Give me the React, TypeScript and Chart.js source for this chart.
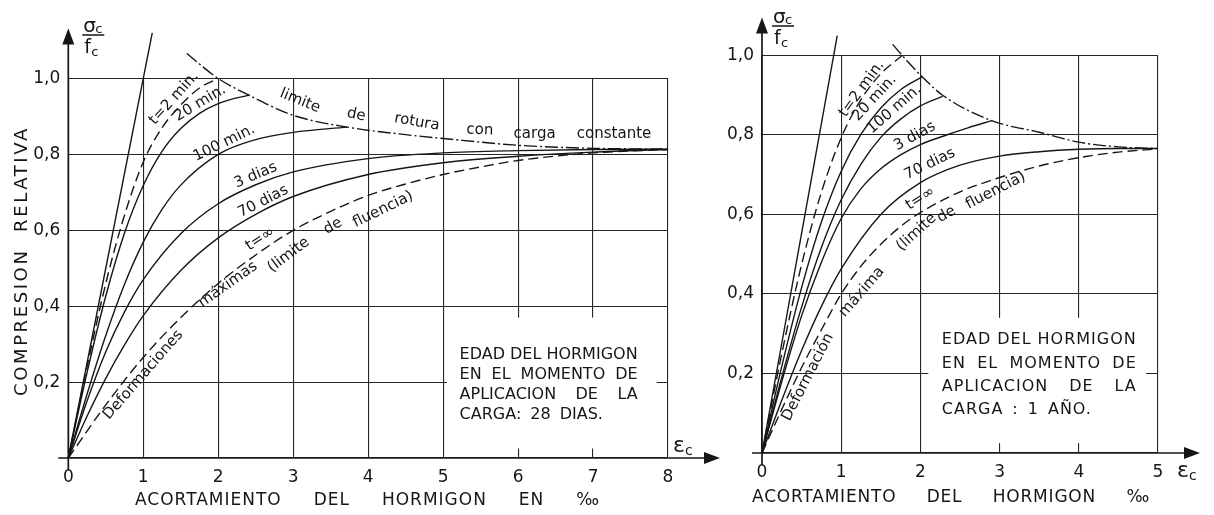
import React, { useEffect, useRef } from 'react';
import { Chart, registerables } from 'chart.js';
Chart.register(...registerables);

const FONT = '"DejaVu Sans", "Liberation Sans", sans-serif';
const INK = '#161616';

// ---------------- LEFT PANEL (carga a los 28 dias) ----------------
const L_X_MAX = 8;
const L_ELASTIC_X = [0, 1.12];
const L_ELASTIC_Y = [0, 1.12];
const L_2MIN_X = [0, 0.25, 0.5, 0.75, 1.0, 1.25, 1.5, 1.75, 2.0];
const L_2MIN_Y = [0, 0.24, 0.46, 0.64, 0.78, 0.87, 0.93, 0.975, 1.0];
const L_20MIN_X = [0, 0.25, 0.5, 0.75, 1.0, 1.25, 1.5, 1.75, 2.0, 2.42];
const L_20MIN_Y = [0, 0.225, 0.427, 0.593, 0.718, 0.808, 0.868, 0.908, 0.934, 0.957];
const L_100MIN_X = [0, 0.25, 0.5, 0.75, 1.0, 1.25, 1.5, 2.0, 2.5, 3.0, 3.72];
const L_100MIN_Y = [0, 0.168, 0.323, 0.458, 0.569, 0.655, 0.719, 0.8, 0.839, 0.858, 0.872];
const L_3D_X = [0, 0.25, 0.5, 0.75, 1.0, 1.5, 2.0, 2.5, 3.0, 4.0, 5.0, 6.0, 7.0, 8.0];
const L_3D_Y = [0, 0.15, 0.28, 0.385, 0.47, 0.591, 0.67, 0.72, 0.754, 0.789, 0.804, 0.81, 0.813, 0.814];
const L_70D_X = [0, 0.25, 0.5, 0.75, 1.0, 1.5, 2.0, 2.5, 3.0, 4.0, 5.0, 6.0, 7.0, 8.0];
const L_70D_Y = [0, 0.11, 0.21, 0.298, 0.375, 0.494, 0.58, 0.642, 0.689, 0.747, 0.778, 0.795, 0.806, 0.813];
const L_INF_X = [0, 0.5, 1.0, 1.5, 2.0, 2.5, 3.0, 3.5, 4.0, 4.5, 5.0, 5.5, 6.0, 7.0, 8.0];
const L_INF_Y = [0, 0.14, 0.265, 0.37, 0.46, 0.535, 0.6, 0.65, 0.692, 0.722, 0.747, 0.767, 0.784, 0.804, 0.813];
const L_LIMIT_X = [1.58, 2.0, 2.42, 3.0, 3.72, 4.5, 5.0, 6.0, 7.0, 8.0];
const L_LIMIT_Y = [1.066, 1.0, 0.955, 0.903, 0.872, 0.852, 0.842, 0.824, 0.816, 0.814];

// ---------------- RIGHT PANEL (carga a 1 año) ----------------
const R_X_MAX = 5;
const R_ELASTIC_X = [0, 0.95];
const R_ELASTIC_Y = [0, 1.05];
const R_2MIN_X = [0, 0.25, 0.5, 0.75, 1.0, 1.25, 1.5, 1.77];
const R_2MIN_Y = [0, 0.25, 0.474, 0.656, 0.793, 0.889, 0.954, 1.0];
const R_20MIN_X = [0, 0.25, 0.5, 0.75, 1.0, 1.25, 1.5, 1.75, 2.02];
const R_20MIN_Y = [0, 0.218, 0.416, 0.581, 0.709, 0.802, 0.868, 0.914, 0.946];
const R_100MIN_X = [0, 0.25, 0.5, 0.75, 1.0, 1.25, 1.5, 1.75, 2.0, 2.28];
const R_100MIN_Y = [0, 0.191, 0.367, 0.517, 0.637, 0.727, 0.794, 0.84, 0.873, 0.897];
const R_3D_X = [0, 0.25, 0.5, 0.75, 1.0, 1.25, 1.5, 1.75, 2.0, 2.33, 2.6, 2.9];
const R_3D_Y = [0, 0.18, 0.345, 0.48, 0.59, 0.665, 0.715, 0.75, 0.776, 0.8, 0.818, 0.836];
const R_70D_X = [0, 0.25, 0.5, 0.75, 1.0, 1.5, 2.0, 2.5, 3.0, 3.5, 4.0, 4.5, 5.0];
const R_70D_Y = [0, 0.133, 0.258, 0.369, 0.463, 0.6, 0.68, 0.724, 0.747, 0.758, 0.764, 0.766, 0.766];
const R_INF_X = [0, 0.25, 0.5, 0.75, 1.0, 1.25, 1.5, 1.75, 2.0, 2.5, 3.0, 3.5, 4.0, 4.5, 5.0];
const R_INF_Y = [0, 0.11, 0.215, 0.31, 0.4, 0.47, 0.525, 0.57, 0.605, 0.657, 0.693, 0.722, 0.743, 0.757, 0.765];
const R_LIMIT_X = [1.65, 1.77, 2.02, 2.28, 2.9, 3.5, 4.0, 4.5, 5.0];
const R_LIMIT_Y = [1.028, 1.0, 0.947, 0.9, 0.836, 0.807, 0.782, 0.77, 0.766];

const Y_TICK_STEP = 0.2;

const SOLID: number[] = [];
const DASH = [10, 5];
const DASHDOT = [13, 3, 2, 3];

function pts(xs: number[], ys: number[]) {
  return xs.map((x, i) => ({ x, y: ys[i] }));
}
function line(xs: number[], ys: number[], dash: number[]) {
  return {
    data: pts(xs, ys),
    showLine: true,
    borderColor: INK,
    borderWidth: 1.4,
    borderDash: dash,
    pointRadius: 0,
    cubicInterpolationMode: 'monotone',
    clip: false,
    fill: false,
  };
}

type Label = { t: string; x: number; y: number; a: number };

const LEFT_LABELS: Label[] = [
  { t: 't=2 min.', x: 1.41, y: 0.948, a: -48 },
  { t: '20 min.', x: 1.76, y: 0.935, a: -31 },
  { t: '100 min.', x: 2.08, y: 0.83, a: -26 },
  { t: '3 dias', x: 2.5, y: 0.745, a: -23 },
  { t: '70 dias', x: 2.6, y: 0.676, a: -27 },
  { t: 't=∞', x: 2.56, y: 0.577, a: -33 },
  { t: 'Deformaciones', x: 1.0, y: 0.219, a: -49 },
  { t: 'máximas', x: 2.13, y: 0.457, a: -35 },
  { t: '(limite', x: 2.94, y: 0.535, a: -37 },
  { t: 'de', x: 3.53, y: 0.611, a: -30 },
  { t: 'fluencia)', x: 4.2, y: 0.655, a: -26 },
  { t: 'limite', x: 3.09, y: 0.941, a: 22 },
  { t: 'de', x: 3.84, y: 0.904, a: 12 },
  { t: 'rotura', x: 4.65, y: 0.885, a: 10 },
  { t: 'con', x: 5.49, y: 0.864, a: 2 },
  { t: 'carga', x: 6.22, y: 0.853, a: 0 },
  { t: 'constante', x: 7.28, y: 0.853, a: 0 },
];

const RIGHT_LABELS: Label[] = [
  { t: 't=2 min.', x: 1.26, y: 0.916, a: -54 },
  { t: '20 min.', x: 1.42, y: 0.893, a: -47 },
  { t: '100 min.', x: 1.67, y: 0.865, a: -41 },
  { t: '3 dias', x: 1.93, y: 0.797, a: -29 },
  { t: '70 dias', x: 2.12, y: 0.727, a: -26 },
  { t: 't=∞', x: 2.0, y: 0.64, a: -32 },
  { t: 'Deformación', x: 0.58, y: 0.191, a: -63 },
  { t: 'máxima', x: 1.26, y: 0.405, a: -49 },
  { t: '(limite', x: 1.95, y: 0.555, a: -42 },
  { t: 'de', x: 2.33, y: 0.6, a: -30 },
  { t: 'fluencia)', x: 2.95, y: 0.66, a: -27 },
];

const LEFT_BOX = ['EDAD DEL HORMIGON', 'EN EL MOMENTO DE', 'APLICACION DE LA', 'CARGA: 28 DIAS.'];
const RIGHT_BOX = ['EDAD DEL HORMIGON', 'EN EL MOMENTO DE', 'APLICACION DE LA', 'CARGA : 1 AÑO.'];
const LEFT_XTITLE = ['ACORTAMIENTO', 'DEL', 'HORMIGON', 'EN', '‰'];
const RIGHT_XTITLE = ['ACORTAMIENTO', 'DEL', 'HORMIGON', '‰'];
const Y_TITLE = 'COMPRESION  RELATIVA';

type PanelCfg = {
  id: string;
  labels: Label[];
  mask: { x0: number; x1: number; y0: number; y1: number };
  box: { x: number; y: number; gap: number; width: number; lines: string[]; spacing: number };
  xTitle: { words: string[]; x0: number; x1: number; y: number; spacing: number };
  yTitle: boolean;
  yArrowAbove: number;
  xArrowRight: number;
  sigma: { dx: number; barY: number };
  eps: { dx: number; y: number };
};

function drawJustified(ctx: CanvasRenderingContext2D, words: string[], x0: number, x1: number, y: number) {
  const widths = words.map((w) => ctx.measureText(w).width);
  const total = widths.reduce((a, b) => a + b, 0);
  const gap = words.length > 1 ? (x1 - x0 - total) / (words.length - 1) : 0;
  let x = x0;
  words.forEach((w, i) => {
    ctx.fillText(w, x, y);
    x += widths[i] + gap;
  });
}

function arrow(ctx: CanvasRenderingContext2D, tx: number, ty: number, dir: 'up' | 'right') {
  ctx.beginPath();
  if (dir === 'up') {
    ctx.moveTo(tx, ty);
    ctx.lineTo(tx - 6, ty + 16);
    ctx.lineTo(tx + 6, ty + 16);
  } else {
    ctx.moveTo(tx, ty);
    ctx.lineTo(tx - 16, ty - 6);
    ctx.lineTo(tx - 16, ty + 6);
  }
  ctx.closePath();
  ctx.fill();
}

function makeOverlay(cfg: PanelCfg) {
  return {
    id: 'overlay_' + cfg.id,
    beforeDatasetsDraw(chart: any) {
      const { ctx } = chart;
      const xs = chart.scales.x;
      const ys = chart.scales.y;
      const m = cfg.mask;
      const a = xs.getPixelForValue(m.x0);
      const b = xs.getPixelForValue(m.x1);
      const c = ys.getPixelForValue(m.y1);
      const d = ys.getPixelForValue(m.y0);
      ctx.save();
      ctx.fillStyle = '#ffffff';
      ctx.fillRect(a, c, b - a, d - c);
      ctx.restore();
    },
    afterDraw(chart: any) {
      const { ctx, chartArea } = chart;
      const xs = chart.scales.x;
      const ys = chart.scales.y;
      const ox = xs.getPixelForValue(0);
      const oy = ys.getPixelForValue(0);
      ctx.save();
      ctx.strokeStyle = INK;
      ctx.fillStyle = INK;
      ctx.lineWidth = 1.7;
      ctx.setLineDash([]);
      const yTip = chartArea.top - cfg.yArrowAbove;
      ctx.beginPath();
      ctx.moveTo(ox, oy + 12);
      ctx.lineTo(ox, yTip + 10);
      ctx.stroke();
      arrow(ctx, ox, yTip, 'up');
      const xTip = chartArea.right + cfg.xArrowRight;
      ctx.beginPath();
      ctx.moveTo(ox - 10, oy);
      ctx.lineTo(xTip - 10, oy);
      ctx.stroke();
      arrow(ctx, xTip, oy, 'right');

      // sigma_c / f_c
      const sx = ox + cfg.sigma.dx;
      const by = cfg.sigma.barY;
      ctx.textAlign = 'left';
      ctx.textBaseline = 'alphabetic';
      ctx.font = `20px ${FONT}`;
      ctx.fillText('σ', sx, by - 3);
      ctx.font = `13px ${FONT}`;
      ctx.fillText('c', sx + 12, by - 2);
      ctx.lineWidth = 1.5;
      ctx.beginPath();
      ctx.moveTo(sx - 1, by);
      ctx.lineTo(sx + 21, by);
      ctx.stroke();
      ctx.font = `19px ${FONT}`;
      ctx.fillText('f', sx + 1, by + 18);
      ctx.font = `13px ${FONT}`;
      ctx.fillText('c', sx + 8, by + 21);

      // epsilon_c
      ctx.font = `22px ${FONT}`;
      ctx.fillText('ε', chartArea.right + cfg.eps.dx, oy + cfg.eps.y);
      ctx.font = `14px ${FONT}`;
      ctx.fillText('c', chartArea.right + cfg.eps.dx + 12, oy + cfg.eps.y + 3);

      // curve labels
      ctx.font = `15px ${FONT}`;
      ctx.textAlign = 'center';
      ctx.textBaseline = 'middle';
      cfg.labels.forEach((l) => {
        ctx.save();
        ctx.translate(xs.getPixelForValue(l.x), ys.getPixelForValue(l.y));
        ctx.rotate((l.a * Math.PI) / 180);
        ctx.fillText(l.t, 0, 0);
        ctx.restore();
      });

      // box text
      ctx.font = `16px ${FONT}`;
      ctx.textAlign = 'left';
      (ctx as any).letterSpacing = `${cfg.box.spacing}px`;
      const bx = xs.getPixelForValue(cfg.box.x);
      const by0 = ys.getPixelForValue(cfg.box.y);
      cfg.box.lines.forEach((ln, i) => {
        const yy = by0 + i * cfg.box.gap;
        if (i < cfg.box.lines.length - 1) {
          drawJustified(ctx, ln.split(' '), bx, bx + cfg.box.width, yy);
        } else {
          const words = ln.split(' ');
          let x = bx;
          words.forEach((w) => {
            ctx.fillText(w, x, yy);
            x += ctx.measureText(w).width + 9;
          });
        }
      });

      // x title
      ctx.font = `17px ${FONT}`;
      (ctx as any).letterSpacing = `${cfg.xTitle.spacing}px`;
      drawJustified(ctx, cfg.xTitle.words, cfg.xTitle.x0, cfg.xTitle.x1, cfg.xTitle.y);

      // y title
      if (cfg.yTitle) {
        ctx.font = `18px ${FONT}`;
        (ctx as any).letterSpacing = '2.6px';
        ctx.textAlign = 'center';
        ctx.translate(22, 261);
        ctx.rotate(-Math.PI / 2);
        ctx.fillText(Y_TITLE, 0, 0);
      }
      (ctx as any).letterSpacing = '0px';
      ctx.restore();
    },
  };
}

function scalesFor(xMax: number, yWidth: number, xHeight: number) {
  return {
    x: {
      type: 'linear',
      min: 0,
      max: xMax,
      afterFit: (s: any) => {
        s.height = xHeight;
      },
      border: { display: false },
      grid: { color: '#262626', lineWidth: 1.1, drawTicks: false },
      ticks: {
        stepSize: 1,
        autoSkip: false,
        maxRotation: 0,
        padding: 9,
        color: INK,
        font: { family: FONT, size: 17 },
        callback: (v: number) => String(v),
      },
    },
    y: {
      type: 'linear',
      min: 0,
      max: 1,
      afterFit: (s: any) => {
        s.width = yWidth;
      },
      border: { display: false },
      grid: { color: '#262626', lineWidth: 1.1, drawTicks: false },
      ticks: {
        stepSize: Y_TICK_STEP,
        padding: 8,
        color: INK,
        font: { family: FONT, size: 17 },
        callback: (v: number) => (v === 0 ? '' : v.toFixed(1).replace('.', ',')),
      },
    },
  };
}

const LEFT_CFG: PanelCfg = {
  id: 'L',
  labels: LEFT_LABELS,
  mask: { x0: 5.05, x1: 7.85, y0: 0.025, y1: 0.37 },
  box: { x: 5.22, y: 0.271, gap: 20, width: 178, lines: LEFT_BOX, spacing: 0 },
  xTitle: { words: LEFT_XTITLE, x0: 135, x1: 600, y: 501, spacing: 1 },
  yTitle: true,
  yArrowAbove: 50,
  xArrowRight: 52,
  sigma: { dx: 15, barY: 35 },
  eps: { dx: 5, y: -6 },
};

const RIGHT_CFG: PanelCfg = {
  id: 'R',
  labels: RIGHT_LABELS,
  mask: { x0: 2.1, x1: 4.85, y0: 0.025, y1: 0.34 },
  box: { x: 2.27, y: 0.284, gap: 23.3, width: 195, lines: RIGHT_BOX, spacing: 1 },
  xTitle: { words: RIGHT_XTITLE, x0: 52, x1: 450, y: 498, spacing: 0.8 },
  yTitle: false,
  yArrowAbove: 38,
  xArrowRight: 42,
  sigma: { dx: 11, barY: 26 },
  eps: { dx: 19, y: 24 },
};

function Panel(props: {
  left: number;
  width: number;
  datasets: any[];
  xMax: number;
  yWidth: number;
  xHeight: number;
  padTop: number;
  padRight: number;
  cfg: PanelCfg;
}) {
  const ref = useRef<HTMLCanvasElement | null>(null);
  useEffect(() => {
    if (!ref.current) return;
    const chart = new Chart(ref.current, {
      type: 'scatter',
      data: { datasets: props.datasets },
      options: {
        responsive: false,
        animation: false,
        devicePixelRatio: 1,
        layout: { autoPadding: false, padding: { left: 0, top: props.padTop, right: props.padRight, bottom: 0 } },
        plugins: { legend: { display: false }, tooltip: { enabled: false }, title: { display: false } },
        events: [],
        scales: scalesFor(props.xMax, props.yWidth, props.xHeight) as any,
      } as any,
      plugins: [makeOverlay(props.cfg)],
    });
    return () => chart.destroy();
  }, []);
  return (
    <canvas
      ref={ref}
      width={props.width}
      height={515}
      style={{ position: 'absolute', left: props.left, top: 0, width: props.width, height: 515 }}
    />
  );
}

export default function App() {
  const leftSets = [
    line(L_ELASTIC_X, L_ELASTIC_Y, SOLID),
    line(L_2MIN_X, L_2MIN_Y, DASH),
    line(L_20MIN_X, L_20MIN_Y, SOLID),
    line(L_100MIN_X, L_100MIN_Y, SOLID),
    line(L_3D_X, L_3D_Y, SOLID),
    line(L_70D_X, L_70D_Y, SOLID),
    line(L_INF_X, L_INF_Y, DASH),
    line(L_LIMIT_X, L_LIMIT_Y, DASHDOT),
  ];
  const rightSets = [
    line(R_ELASTIC_X, R_ELASTIC_Y, SOLID),
    line(R_2MIN_X, R_2MIN_Y, DASH),
    line(R_20MIN_X, R_20MIN_Y, SOLID),
    line(R_100MIN_X, R_100MIN_Y, SOLID),
    line(R_3D_X, R_3D_Y, SOLID),
    line(R_70D_X, R_70D_Y, SOLID),
    line(R_INF_X, R_INF_Y, DASH),
    line(R_LIMIT_X, R_LIMIT_Y, DASHDOT),
  ];
  return (
    <div style={{ position: 'absolute', left: 0, top: 0, width: 1214, height: 515, background: '#fff', overflow: 'hidden' }}>
      <Panel
        left={0}
        width={725}
        datasets={leftSets}
        xMax={L_X_MAX}
        yWidth={68.3}
        xHeight={57}
        padTop={78.5}
        padRight={57}
        cfg={LEFT_CFG}
      />
      <Panel
        left={700}
        width={514}
        datasets={rightSets}
        xMax={R_X_MAX}
        yWidth={62}
        xHeight={62}
        padTop={55.5}
        padRight={56}
        cfg={RIGHT_CFG}
      />
    </div>
  );
}
